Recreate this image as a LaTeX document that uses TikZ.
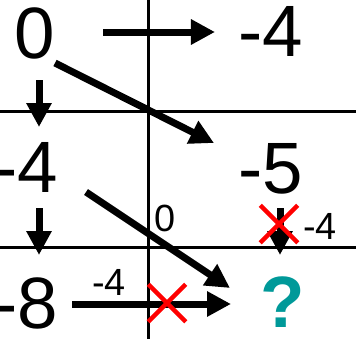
\documentclass[tikz,border=0pt]{standalone}
\usepackage{fontspec}
\setmainfont{Liberation Sans}
\usetikzlibrary{arrows.meta,shapes.misc}
\definecolor{qteal}{HTML}{009999}
\tikzset{
  big/.style={inner sep=0pt,font=\fontsize{73}{73}\selectfont},
  small/.style={inner sep=0pt,font=\fontsize{38}{38}\selectfont},
  grid/.style={line width=3bp},
  arr/.style={line width=7bp,-{Triangle[length=24bp,width=24bp]}},
  nomark/.style={cross out,draw=red,line width=4.5bp,minimum size=33bp,inner sep=0pt}
}
\begin{document}
\begin{tikzpicture}[x=1bp,y=-1bp]
\useasboundingbox (0,0) rectangle (356,339);
% grid lines
\coordinate (vt) at (148,0); \coordinate (vb) at (148,339);
\coordinate (h1l) at (0,111); \coordinate (h1r) at (356,111);
\coordinate (h2l) at (0,247); \coordinate (h2r) at (356,247);
\draw[grid] (vt) -- (vb);
\draw[grid] (h1l) -- (h1r);
\draw[grid] (h2l) -- (h2r);
% numbers
\node[big] (n0) at (35,33.5) {0};
\node[big] (nA) at (271,31) {-4};
\node[big] (nB) at (26,167) {-4};
\node[big] (nC) at (271,169) {-5};
\node[big] (nD) at (26,303.5) {-8};
\node[big,text=qteal,font=\fontsize{73}{73}\selectfont\bfseries] (nQ) at (283,302.5) {?};
\node[small] (l0) at (165,218.5) {0};
\node[small] (lR) at (320,226.5) {-4};
\node[small] (lB) at (109,282.5) {-4};
% arrow end points
\coordinate (a1s) at (103,32);  \coordinate (a1e) at (215,32);
\coordinate (a2s) at (55,63);   \coordinate (a2e) at (214,143);
\coordinate (a3s) at (39,80);   \coordinate (a3e) at (39,127);
\coordinate (a4s) at (39,208);  \coordinate (a4e) at (39,255);
\coordinate (a5s) at (86,192);  \coordinate (a5e) at (230,288);
\coordinate (a6s) at (72,304);  \coordinate (a6e) at (231,304);
\coordinate (a7s) at (280,208); \coordinate (a7e) at (280,255);
\draw[arr] (a1s) -- (a1e);
\draw[arr] (a2s) -- (a2e);
\draw[arr] (a3s) -- (a3e);
\draw[arr] (a4s) -- (a4e);
\draw[arr] (a5s) -- (a5e);
\draw[arr] (a6s) -- (a6e);
\draw[arr] (a7s) -- (a7e);
% red crosses
\node[nomark] (x1) at (279,224) {};
\node[nomark] (x2) at (167,303) {};
\end{tikzpicture}
\end{document}
